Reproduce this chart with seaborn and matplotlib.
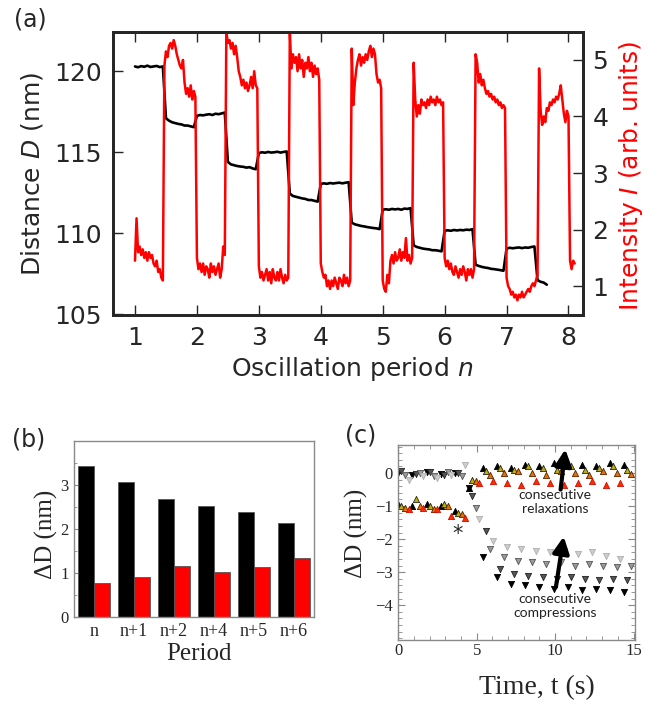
import numpy as np
import pandas as pd
import seaborn as sns
import matplotlib.pyplot as plt
from matplotlib.ticker import MultipleLocator

# === (a) distance D and intensity I vs oscillation period n ===
# D sampled every 0.05 period, from n = 1.00 to 7.65
distance = [
    120.30, 120.25, 120.32, 120.28, 120.35, 120.27, 120.30, 120.33, 120.26, 120.30,
    117.10, 116.95, 116.85, 116.80, 116.75, 116.72, 116.65, 116.65, 116.60, 116.55,
    117.25, 117.30, 117.28, 117.32, 117.35, 117.30, 117.38, 117.35, 117.40, 117.45,
    114.40, 114.25, 114.20, 114.15, 114.12, 114.10, 114.05, 114.08, 114.00, 113.95,
    114.95, 115.00, 114.97, 115.02, 114.98, 115.00, 115.03, 114.98, 115.02, 115.05,
    112.45, 112.30, 112.25, 112.20, 112.15, 112.12, 112.05, 112.05, 112.00, 111.95,
    113.05, 113.08, 113.05, 113.10, 113.07, 113.10, 113.12, 113.08, 113.12, 113.15,
    110.65, 110.55, 110.50, 110.45, 110.42, 110.38, 110.35, 110.32, 110.30, 110.25,
    111.45, 111.48, 111.45, 111.50, 111.47, 111.50, 111.45, 111.52, 111.50, 111.55,
    109.25, 109.15, 109.10, 109.05, 109.02, 109.00, 108.95, 108.95, 108.92, 108.88,
    110.15, 110.18, 110.15, 110.20, 110.17, 110.20, 110.18, 110.22, 110.20, 110.25,
    108.05, 107.98, 107.92, 107.88, 107.85, 107.80, 107.78, 107.75, 107.72, 107.68,
    109.05, 109.10, 109.07, 109.10, 109.12, 109.08, 109.12, 109.10, 109.15, 109.18,
    107.10, 107.00, 106.95, 106.82,
]
# I sampled every 0.025 period, from n = 1.000 to 8.100
intensity = [
    1.45, 2.20, 1.60, 1.70, 1.55, 1.65, 1.50, 1.60, 1.45, 1.60, 1.50, 1.55, 1.40, 1.35, 1.45, 1.25, 1.30, 1.15, 1.10, 4.90,
    5.15, 5.05, 5.25, 5.30, 5.20, 5.35, 5.25, 5.10, 5.00, 4.90, 4.85, 5.00, 4.60, 4.40, 4.50, 4.35, 4.55, 4.30, 4.45, 4.35,
    1.50, 1.30, 1.40, 1.25, 1.40, 1.20, 1.35, 1.30, 1.15, 1.40, 1.25, 1.35, 1.20, 1.30, 1.40, 1.15, 1.30, 1.70, 1.55, 5.50,
    5.30, 5.35, 5.20, 5.30, 5.10, 5.25, 5.05, 4.80, 4.70, 4.55, 4.65, 4.50, 4.60, 4.45, 4.55, 4.70, 4.50, 4.80, 4.55, 4.50,
    1.35, 1.15, 1.25, 1.10, 1.20, 1.30, 1.10, 1.25, 1.05, 1.30, 1.15, 1.10, 1.25, 1.10, 1.30, 1.15, 1.05, 1.20, 1.10, 1.15,
    5.50, 4.85, 5.10, 4.95, 5.05, 4.80, 5.10, 4.85, 5.00, 4.70, 4.95, 4.85, 5.05, 4.80, 4.95, 4.70, 4.90, 4.75, 4.85, 4.65,
    1.40, 1.25, 1.15, 1.20, 1.00, 1.10, 0.95, 1.10, 1.00, 1.15, 1.05, 0.95, 1.15, 1.10, 1.00, 1.20, 1.05, 1.15, 1.00, 1.10,
    5.20, 4.20, 4.60, 4.85, 5.00, 5.10, 4.90, 5.05, 4.95, 5.10, 5.00, 5.15, 5.25, 5.05, 5.20, 5.10, 4.75, 4.60, 4.65, 4.50,
    1.10, 0.95, 0.90, 1.20, 1.05, 1.45, 1.55, 1.40, 1.60, 1.45, 1.50, 1.65, 1.45, 1.60, 1.50, 1.85, 1.45, 1.55, 1.40, 1.50,
    4.95, 4.30, 4.00, 4.20, 4.05, 4.30, 4.20, 4.25, 4.15, 4.30, 4.20, 4.35, 4.25, 4.30, 4.20, 4.35, 4.25, 4.30, 4.20, 4.25,
    1.50, 1.35, 1.45, 1.30, 1.40, 1.25, 1.20, 1.35, 1.25, 1.15, 1.30, 1.20, 1.35, 1.25, 1.10, 1.30, 1.20, 1.30, 1.15, 1.30,
    5.10, 4.95, 4.60, 4.75, 4.55, 4.65, 4.50, 4.40, 4.45, 4.35, 4.40, 4.30, 4.35, 4.25, 4.30, 4.20, 4.25, 4.15, 4.20, 4.15,
    1.15, 1.00, 0.95, 0.85, 0.90, 0.80, 0.85, 0.75, 0.85, 0.80, 0.90, 0.80, 0.85, 0.90, 0.95, 0.90, 1.00, 1.05, 1.00, 1.10,
    1.20, 4.85, 4.10, 3.85, 4.00, 3.90, 4.15, 4.10, 4.25, 4.20, 4.30, 4.25, 4.35, 4.30, 4.40, 4.55, 4.30, 4.05, 3.90, 4.10,
    4.00, 1.45, 1.30, 1.45, 1.40,
]
n_dist = np.linspace(1.0, 7.65, len(distance))
n_int = np.linspace(1.0, 8.1, len(intensity))

# === (b) ΔD per period ===
periods = ["n", "n+1", "n+2", "n+4", "n+5", "n+6"]
dD_black = [3.43, 3.07, 2.69, 2.53, 2.38, 2.13]
dD_red = [0.78, 0.92, 1.16, 1.03, 1.14, 1.35]

# === (c) ΔD vs time for consecutive compressions / relaxations ===
t_a = [0.0, 0.9, 1.8, 2.7, 3.6, 4.5, 5.4, 6.3, 7.2, 8.1, 9.0, 9.9, 10.8, 11.7, 12.6, 13.5, 14.4]
t_b = [0.2, 1.1, 2.0, 2.9, 3.8, 4.7, 5.6, 6.5, 7.4, 8.3, 9.2, 10.1, 11.0, 11.9, 12.8, 13.7, 14.6]
t_c = [0.45, 1.35, 2.25, 3.15, 4.05, 4.95, 5.85, 6.75, 7.65, 8.55, 9.45, 10.35, 11.25, 12.15, 13.05, 13.95, 14.85]
t_d = [0.65, 1.55, 2.45, 3.35, 4.25, 5.15, 6.05, 6.95, 7.85, 8.75, 9.65, 10.55, 11.45, 12.35, 13.25, 14.15]

comp_1 = [0.0, -0.05, 0.02, -0.03, 0.0, -0.45, -2.55, -3.15, -3.35, -3.4, -3.45, -3.5, -3.45, -3.55, -3.5, -3.55, -3.6]
comp_2 = [0.05, -0.02, 0.03, -0.05, 0.0, -0.7, -1.75, -2.9, -3.05, -3.1, -3.15, -3.2, -3.15, -3.2, -3.25, -3.2, -3.25]
comp_3 = [-0.05, 0.0, -0.08, 0.02, -0.1, -1.05, -2.3, -2.55, -2.65, -2.7, -2.75, -2.7, -2.8, -2.75, -2.8, -2.85, -2.8]
comp_4 = [-0.2, -0.1, -0.15, -0.05, 0.25, -1.4, -2.05, -2.25, -2.3, -2.35, -2.4, -2.35, -2.45, -2.4, -2.5, -2.6]

relax_1 = [-0.95, -1.0, -0.95, -1.0, -1.15, -0.45, 0.15, 0.2, 0.15, 0.25, 0.2, 0.3, 0.2, 0.25, 0.2, 0.3, 0.25]
relax_2 = [-1.0, -0.8, -1.0, -0.95, -1.2, -0.2, 0.05, 0.15, 0.1, 0.2, 0.15, 0.1, 0.2, 0.1, 0.15, 0.2, 0.1]
relax_3 = [-1.05, -1.0, -1.1, -1.0, -1.25, -0.25, -0.05, 0.0, 0.05, 0.0, -0.05, 0.05, 0.0, -0.05, 0.05, 0.0, -0.02]
relax_4 = [-1.1, -1.05, -1.1, -1.3, -1.35, -0.3, -0.25, -0.3, -0.35, -0.25, -0.3, -0.35, -0.3, -0.25, -0.35, -0.3]

sns.set_style("ticks")
plt.rcParams["font.family"] = ["DejaVu Sans"]
SERIF = "Liberation Serif"

fig = plt.figure(figsize=(6.65, 7.11), dpi=100)

# ---------- (a) ----------
ax_a = fig.add_axes([0.1704, 0.557, 0.7059, 0.3985])
sns.lineplot(x=n_dist, y=distance, ax=ax_a, color="black", lw=1.9, estimator=None, sort=False)
ax_a.set_xlim(0.65, 8.23)
ax_a.set_ylim(104.95, 122.45)
ax_a.set_xticks(range(1, 9))
ax_a.set_yticks([105, 110, 115, 120])
ax_a.tick_params(direction="in", length=7, width=1, top=True, labelsize=18, pad=8)
ax_a.set_xlabel("")
ax_a.set_ylabel("")
for s in ax_a.spines.values():
    s.set_linewidth(2)

ax_a2 = ax_a.twinx()
sns.lineplot(x=n_int, y=intensity, ax=ax_a2, color="red", lw=1.8, estimator=None, sort=False)
ax_a2.set_ylim(0.49, 5.5)
ax_a2.set_yticks([1, 2, 3, 4, 5])
ax_a2.tick_params(direction="in", length=7, width=1, labelsize=18, pad=7)
ax_a2.set_ylabel("")
for s in ax_a2.spines.values():
    s.set_linewidth(2)

fig.text(32 / 665, 1 - 174 / 711, "Distance $D$ (nm)", rotation=90, ha="center", va="center", fontsize=18)
fig.text(631 / 665, 1 - 176 / 711, "Intensity $I$ (arb. units)", rotation=90, ha="center", va="center",
         fontsize=18, color="red")
fig.text(352 / 665, 1 - 369 / 711, "Oscillation period $n$", ha="center", va="center", fontsize=18)
fig.text(30 / 665, 1 - 20 / 711, "(a)", ha="center", va="center", fontsize=17)

# ---------- (b) ----------
ax_b = fig.add_axes([0.1113, 0.1318, 0.361, 0.2484])
df_b = pd.DataFrame({
    "period": periods * 2,
    "dD": dD_black + dD_red,
    "kind": ["black"] * len(periods) + ["red"] * len(periods),
})
sns.barplot(data=df_b, x="period", y="dD", hue="kind", palette=["black", "#ff0000"], width=0.8,
            saturation=1, edgecolor="#555555", linewidth=0.6, ax=ax_b, legend=False)
ax_b.set_xlim(-0.5, 5.5)
ax_b.set_ylim(0, 4.0)
ax_b.set_yticks([0, 1, 2, 3])
ax_b.yaxis.set_minor_locator(MultipleLocator(0.5))
ax_b.tick_params(axis="y", which="both", direction="in", color="#888888", labelsize=12, pad=4,
                 labelfontfamily=SERIF)
ax_b.tick_params(axis="y", which="major", length=4)
ax_b.tick_params(axis="y", which="minor", length=2.5)
ax_b.tick_params(axis="x", length=0, labelsize=13, pad=4, labelfontfamily=SERIF)
ax_b.set_xlabel("")
ax_b.set_ylabel("")
for s in ax_b.spines.values():
    s.set_visible(True)
    s.set_color("#8a8a8a")
    s.set_linewidth(1.0)
fig.text(46 / 665, 1 - 534 / 711, "ΔD (nm)", rotation=90, ha="center", va="center", fontsize=18, family=SERIF)
fig.text(199 / 665, 1 - 654 / 711, "Period", ha="center", va="center", fontsize=18, family=SERIF)
fig.text(29 / 665, 1 - 440 / 711, "(b)", ha="center", va="center", fontsize=17)

# ---------- (c) ----------
ax_c = fig.add_axes([0.599, 0.0999, 0.356, 0.2743])
comp = [(t_a, comp_1, "black", "black"), (t_b, comp_2, "#555555", "#222222"),
        (t_c, comp_3, "#9a9a9a", "#555555"), (t_d, comp_4, "#cccccc", "#b0b0b0")]
relax = [(t_a, relax_1, "black", "black"), (t_b, relax_2, "#bfae00", "#222222"),
         (t_c, relax_3, "#e87000", "#552200"), (t_d, relax_4, "#ff2a00", "#cc1100")]
for t, y, fc, ec in comp:
    sns.scatterplot(x=t, y=y, ax=ax_c, marker="v", s=20, color=fc, edgecolor=ec, linewidth=0.6)
for t, y, fc, ec in relax:
    sns.scatterplot(x=t, y=y, ax=ax_c, marker="^", s=20, color=fc, edgecolor=ec, linewidth=0.6)
ax_c.set_xlim(0, 15.1)
ax_c.set_ylim(-5.05, 0.85)
ax_c.set_xticks([0, 5, 10, 15])
ax_c.set_yticks([0, -1, -2, -3, -4])
ax_c.xaxis.set_minor_locator(MultipleLocator(1))
ax_c.yaxis.set_minor_locator(MultipleLocator(0.2))
ax_c.tick_params(which="both", direction="in", top=True, right=True, color="#888888")
ax_c.tick_params(which="major", length=5, labelsize=12, labelfontfamily=SERIF)
ax_c.tick_params(axis="x", which="major", pad=2)
ax_c.tick_params(axis="y", which="major", pad=4)
ax_c.tick_params(which="minor", length=3)
ax_c.set_xlabel("")
ax_c.set_ylabel("")
for s in ax_c.spines.values():
    s.set_color("#8a8a8a")
    s.set_linewidth(1.0)

arrow_style = dict(arrowstyle="-|>,head_length=0.7,head_width=0.35", lw=3.0, color="black",
                   mutation_scale=14, shrinkA=0, shrinkB=0)
ax_c.annotate("", xy=(10.65, 0.72), xytext=(10.35, -0.5), arrowprops=arrow_style)
ax_c.annotate("", xy=(10.55, -1.92), xytext=(10.05, -3.45), arrowprops=arrow_style)
ax_c.text(10.0, -0.88, "consecutive\nrelaxations", ha="center", va="center", fontsize=10,
          family="Lato", linespacing=1.25, color="#222222")
ax_c.text(10.0, -4.02, "consecutive\ncompressions", ha="center", va="center", fontsize=10,
          family="Lato", linespacing=1.25, color="#222222")
ax_c.text(3.75, -1.85, "*", ha="center", va="center", fontsize=15)

fig.text(356 / 665, 1 - 533 / 711, "ΔD (nm)", rotation=90, ha="center", va="center", fontsize=18, family=SERIF)
fig.text(537 / 665, 1 - 688 / 711, "Time, t (s)", ha="center", va="center", fontsize=20, family=SERIF)
fig.text(361 / 665, 1 - 436 / 711, "(c)", ha="center", va="center", fontsize=17)

fig.savefig("out.png", dpi=100)
